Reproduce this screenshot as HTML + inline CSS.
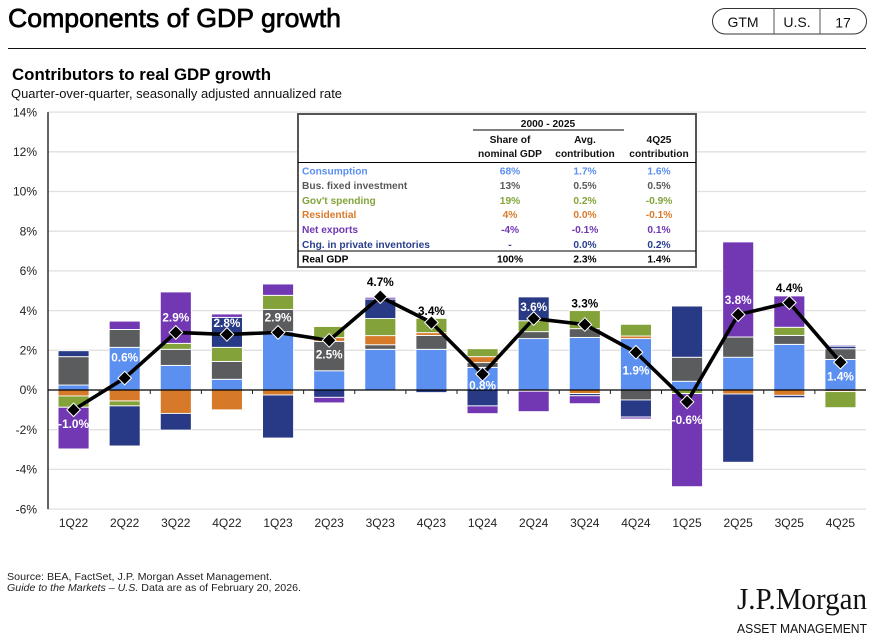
<!DOCTYPE html>
<html lang="en">
<head>
<meta charset="utf-8">
<title>Components of GDP growth</title>
<style>
html,body{margin:0;padding:0;background:#fff;}
body{width:879px;height:642px;overflow:hidden;}
svg{display:block;font-family:"Liberation Sans",Arial,sans-serif;}
.tick{font-size:12px;fill:#222;}
.tb{font-size:10.2px;font-weight:bold;}
.c{text-anchor:middle;}
</style>
</head>
<body>
<svg id="chart" width="879" height="642" viewBox="0 0 879 642" xmlns="http://www.w3.org/2000/svg">
  <text x="8" y="27" font-size="26" fill="#000" stroke="#000" stroke-width="0.7" textLength="333" lengthAdjust="spacingAndGlyphs">Components of GDP growth</text>
  <line x1="8" y1="48.5" x2="866" y2="48.5" stroke="#111" stroke-width="1"/>
  <g>
    <rect x="712.5" y="8.5" width="154" height="25.5" rx="12.7" ry="12.7" fill="#fff" stroke="#333" stroke-width="1"/>
    <line x1="774" y1="8.5" x2="774" y2="34" stroke="#555"/>
    <line x1="820" y1="8.5" x2="820" y2="34" stroke="#555"/>
    <text x="743" y="27" font-size="14" text-anchor="middle" fill="#111">GTM</text>
    <text x="797" y="27" font-size="14" text-anchor="middle" fill="#111">U.S.</text>
    <text x="843" y="27.5" font-size="14" text-anchor="middle" fill="#111">17</text>
  </g>
  <text x="12" y="80" font-size="17" font-weight="bold" fill="#000" textLength="259" lengthAdjust="spacingAndGlyphs">Contributors to real GDP growth</text>
  <text x="11" y="98" font-size="13" fill="#111" textLength="331" lengthAdjust="spacingAndGlyphs">Quarter-over-quarter, seasonally adjusted annualized rate</text>

  <g id="grid"></g>
  <g id="yTicks"></g>
  <g id="bars"></g>
  <g id="axes"></g>
  <g id="xTicks"></g>
  <g id="line"></g>
  <g id="labels"></g>

  <g>
    <rect x="298" y="114" width="398" height="153" fill="#fff" stroke="#555" stroke-width="2"/>
    <line x1="473" y1="130" x2="624" y2="130" stroke="#000"/>
    <line x1="298" y1="162.5" x2="696" y2="162.5" stroke="#000"/>
    <line x1="298" y1="251" x2="696" y2="251" stroke="#000"/>
    <g class="tb" fill="#111">
      <text class="c" x="548" y="127">2000 - 2025</text>
      <text class="c" x="510" y="143">Share of</text>
      <text class="c" x="510" y="157">nominal GDP</text>
      <text class="c" x="585" y="143">Avg.</text>
      <text class="c" x="585" y="157">contribution</text>
      <text class="c" x="659" y="143">4Q25</text>
      <text class="c" x="659" y="157">contribution</text>
    </g>
    <g class="tb" fill="#5B8FF0">
      <text x="302" y="174.5">Consumption</text>
      <text class="c" x="510" y="174.5">68%</text>
      <text class="c" x="585" y="174.5">1.7%</text>
      <text class="c" x="659" y="174.5">1.6%</text>
    </g>
    <g class="tb" fill="#5A5A5A">
      <text x="302" y="189">Bus. fixed investment</text>
      <text class="c" x="510" y="189">13%</text>
      <text class="c" x="585" y="189">0.5%</text>
      <text class="c" x="659" y="189">0.5%</text>
    </g>
    <g class="tb" fill="#82A43A">
      <text x="302" y="204">Gov't spending</text>
      <text class="c" x="510" y="204">19%</text>
      <text class="c" x="585" y="204">0.2%</text>
      <text class="c" x="659" y="204">-0.9%</text>
    </g>
    <g class="tb" fill="#D97B2B">
      <text x="302" y="218">Residential</text>
      <text class="c" x="510" y="218">4%</text>
      <text class="c" x="585" y="218">0.0%</text>
      <text class="c" x="659" y="218">-0.1%</text>
    </g>
    <g class="tb" fill="#7136B4">
      <text x="302" y="233">Net exports</text>
      <text class="c" x="510" y="233">-4%</text>
      <text class="c" x="585" y="233">-0.1%</text>
      <text class="c" x="659" y="233">0.1%</text>
    </g>
    <g class="tb" fill="#2A3F8C">
      <text x="302" y="248">Chg. in private inventories</text>
      <text class="c" x="510" y="248">-</text>
      <text class="c" x="585" y="248">0.0%</text>
      <text class="c" x="659" y="248">0.2%</text>
    </g>
    <g class="tb" fill="#000">
      <text x="302" y="262.5">Real GDP</text>
      <text class="c" x="510" y="262.5">100%</text>
      <text class="c" x="585" y="262.5">2.3%</text>
      <text class="c" x="659" y="262.5">1.4%</text>
    </g>
  </g>

  <text x="7" y="580" font-size="10.5" fill="#222" textLength="265" lengthAdjust="spacingAndGlyphs">Source: BEA, FactSet, J.P. Morgan Asset Management.</text>
  <text x="7" y="591" font-size="10.5" fill="#222" textLength="294" lengthAdjust="spacingAndGlyphs"><tspan font-style="italic">Guide to the Markets – U.S.</tspan> Data are as of February 20, 2026.</text>
  <text x="737" y="609" font-size="31" fill="#111" style="font-family:'Liberation Serif',serif" textLength="130" lengthAdjust="spacingAndGlyphs">J.P.Morgan</text>
  <text x="737" y="633" font-size="13" fill="#111" textLength="130" lengthAdjust="spacingAndGlyphs">ASSET MANAGEMENT</text>
</svg>
<script>
const categories = ['1Q22','2Q22','3Q22','4Q22','1Q23','2Q23','3Q23','4Q23','1Q24','2Q24','3Q24','4Q24','1Q25','2Q25','3Q25','4Q25'];
const consumption = [0.25,2.15,1.24,0.54,2.94,0.97,2.05,2.05,1.14,2.59,2.65,2.59,0.44,1.65,2.30,1.54];
const busFixedInvestment = [1.43,0.90,0.81,0.90,1.12,1.48,0.23,0.70,0.24,0.35,0.44,-0.50,1.21,1.02,0.45,0.54];
const residential = [-0.30,-0.55,-1.18,-1.00,-0.25,0.19,0.46,0.14,0.30,-0.06,-0.18,0.13,0.00,-0.20,-0.27,-0.08];
const govSpending = [-0.57,-0.25,0.30,0.71,0.71,0.56,0.86,0.72,0.40,0.55,0.91,0.59,-0.18,0.00,0.41,-0.81];
const inventories = [0.30,-2.02,-0.84,1.51,-2.17,-0.37,0.98,-0.13,-0.80,1.20,-0.11,-0.86,2.58,-3.44,-0.12,0.13];
const netExports = [-2.10,0.42,2.59,0.17,0.57,-0.28,0.09,0.00,-0.39,-1.03,-0.40,-0.10,-4.69,4.79,1.58,0.06];
const realGdp = [-1.0,0.6,2.9,2.8,2.9,2.5,4.7,3.4,0.8,3.6,3.3,1.9,-0.6,3.8,4.4,1.4];
const gdpLabels = ['-1.0%','0.6%','2.9%','2.8%','2.9%','2.5%','4.7%','3.4%','0.8%','3.6%','3.3%','1.9%','-0.6%','3.8%','4.4%','1.4%'];
const labelPlacement = ['below','farAbove','above','near','above','below','above','near','near2','near','farAbove','farBelow','farBelow','above','above','below'];
const labelTone = ['light','light','light','light','light','light','dark','dark','light','light','dark','light','light','light','dark','light'];
const yTickValues = [14,12,10,8,6,4,2,0,-2,-4,-6];

const NS = 'http://www.w3.org/2000/svg';
const plotLeft = 48, plotRight = 866, zeroY = 390, unitPx = 19.85, barWidth = 31;
const bandWidth = (plotRight - plotLeft) / categories.length;
const xScale = i => plotLeft + bandWidth * (i + 0.5);
const yScale = v => zeroY - v * unitPx;
const placementOffset = {near:-11.5, above:-15, farAbove:-21, below:14, near2:11, farBelow:18};
const stack = [
  {key:'consumption', values:consumption, color:'#5B8FF0'},
  {key:'bus-fixed-investment', values:busFixedInvestment, color:'#5A5C5E'},
  {key:'residential', values:residential, color:'#D67A2A'},
  {key:'gov-spending', values:govSpending, color:'#83A33A'},
  {key:'inventories', values:inventories, color:'#283A85'},
  {key:'net-exports', values:netExports, color:'#7238B4'}
];
function make(tag, attrs, parent, text) {
  const el = document.createElementNS(NS, tag);
  for (const k in attrs) el.setAttribute(k, attrs[k]);
  if (text !== undefined) el.textContent = text;
  parent.appendChild(el);
  return el;
}
const gGrid = document.getElementById('grid');
const gY = document.getElementById('yTicks');
yTickValues.forEach(v => {
  if (v !== 0) {
    const g = make('line', {x1:plotLeft, x2:plotRight, y1:yScale(v), y2:yScale(v), stroke:'#E2DFDF', 'stroke-width':1.3}, gGrid);
    
    
  }
  const t = make('text', {x:37, y:yScale(v)+4.2, 'text-anchor':'end', class:'tick'}, gY, v + '%');
  
  
});
const gBars = document.getElementById('bars');
categories.forEach((c, i) => {
  let pos = 0, neg = 0;
  stack.forEach(s => {
    const v = s.values[i];
    if (!v) return;
    let top, bottom;
    if (v > 0) { top = pos + v; bottom = pos; pos = top; }
    else { top = neg; bottom = neg + v; neg = bottom; }
    const r = make('rect', {x:xScale(i)-barWidth/2, y:yScale(top), width:barWidth, height:yScale(bottom)-yScale(top), fill:s.color, stroke:'#fff', 'stroke-width':0.9}, gBars);
    
    
  });
});
const gAxes = document.getElementById('axes');
const yAxis = make('line', {x1:plotLeft, x2:plotLeft, y1:yScale(14), y2:yScale(-6), stroke:'#222', 'stroke-width':1.4}, gAxes);


const xAxis = make('line', {x1:plotLeft, x2:plotRight, y1:zeroY, y2:zeroY, stroke:'#000', 'stroke-width':1.3}, gAxes);


const gX = document.getElementById('xTicks');
categories.forEach((c, i) => {
  if (i > 0) {
    const m = make('line', {x1:plotLeft+bandWidth*i, x2:plotLeft+bandWidth*i, y1:zeroY, y2:zeroY+4, stroke:'#222', 'stroke-width':1}, gAxes);
    
    
  }
  const t = make('text', {x:xScale(i), y:527, 'text-anchor':'middle', class:'tick'}, gX, c);
  
  
});
const gLine = document.getElementById('line');
const path = make('polyline', {points:realGdp.map((v,i)=>xScale(i)+','+yScale(v)).join(' '), fill:'none', stroke:'#000', 'stroke-width':3.6, 'stroke-linejoin':'round'}, gLine);


const gLabels = document.getElementById('labels');
realGdp.forEach((v, i) => {
  const x = xScale(i), y = yScale(v), r = 6.8;
  const d = make('polygon', {points:[[x,y-r],[x+r,y],[x,y+r],[x-r,y]].join(' '), fill:'#000', stroke:'#fff', 'stroke-width':1}, gLine);
  
  
  const t = make('text', {x:x, y:y+placementOffset[labelPlacement[i]]+4.2, 'text-anchor':'middle', 'font-size':11.8, 'font-weight':'bold', fill:labelTone[i]==='dark'?'#000':'#fff'}, gLabels, gdpLabels[i]);
  
  
});
</script>
</body>
</html>
